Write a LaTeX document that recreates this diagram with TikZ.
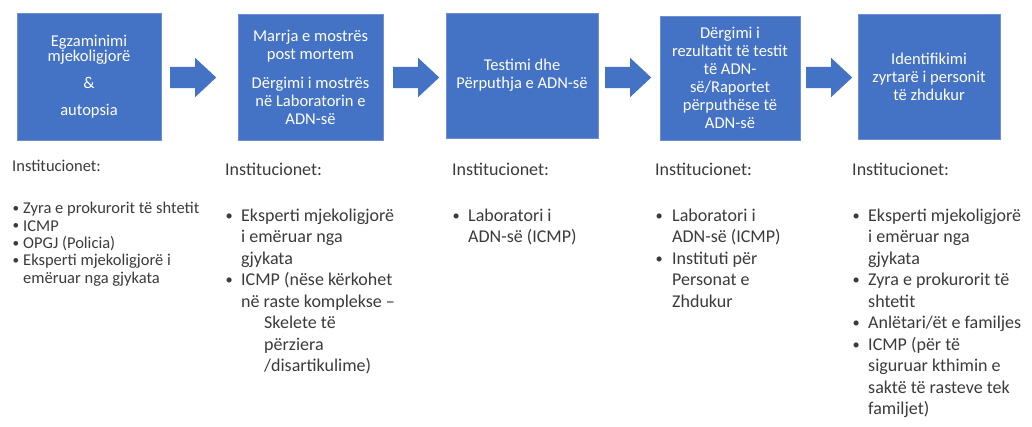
\documentclass[tikz,border=0pt]{standalone}
\usepackage{graphicx}
\usepackage{fontspec}
\setmainfont{Carlito}
\usetikzlibrary{shapes.arrows}
\definecolor{boxblue}{HTML}{4472C4}
\definecolor{boxedge}{HTML}{6F8FD0}
\definecolor{txtgray}{HTML}{3B3B3B}
\newcommand\bul[1]{\makebox[#1][l]{\hspace{0.5pt}\raisebox{0.08em}{\scalebox{0.8}{\textbullet}}}}
\begin{document}
\begin{tikzpicture}[x=1pt,y=-1pt,
  stepbox/.style={rectangle, fill=boxblue, draw=boxedge, line width=0.6pt, text=white,
    align=center, inner sep=0pt, font=\fontsize{16.5}{18}\selectfont},
  blockarrow/.style={single arrow, fill=boxblue, draw=none, inner xsep=0pt, inner ysep=10.5pt,
    minimum height=46pt, minimum width=39pt, single arrow head extend=9pt,
    single arrow tip angle=86, anchor=tail},
  listtext/.style={anchor=base west, inner sep=0pt, text=txtgray}
]
\fill[white] (0,0) rectangle (1032,427);
\useasboundingbox (0,0) rectangle (1032,427);

% step boxes
\node[stepbox, minimum width=144pt, minimum height=127pt, font=\fontsize{16.5}{15}\selectfont]
  (b1) at (89,76.5) {Egzaminimi\\mjekoligjorë\\[12pt]\&\\[12pt]autopsia};
\node[stepbox, minimum width=145pt, minimum height=126pt]
  (b2) at (310.5,77) {Marrja e mostrës\\post mortem\\[11pt]Dërgimi i mostrës\\në Laboratorin e\\ADN-së};
\node[stepbox, minimum width=152pt, minimum height=125pt]
  (b3) at (522,75.5) {Testimi dhe\\Përputhja e ADN-së};
\node[stepbox, minimum width=140pt, minimum height=124pt]
  (b4) at (730,78) {Dërgimi i\\rezultatit të testit\\të ADN-\\së/Raportet\\përputhëse të\\ADN-së};
\node[stepbox, minimum width=142pt, minimum height=125pt]
  (b5) at (929,76.5) {Identifikimi\\zyrtarë i personit\\të zhdukur};

% block arrows
\node[blockarrow] (a1) at (170,77.5) {};
\node[blockarrow] (a2) at (393,77.5) {};
\node[blockarrow] (a3) at (605,77.5) {};
\node[blockarrow] (a4) at (806,77.5) {};

% institution lists
\node[listtext] (c1) at (12,172) {\parbox[t]{215pt}{\fontsize{16.5}{17.3}\selectfont
  Institucionet:\\[24.7pt]
  \bul{11pt}Zyra e prokurorit të shtetit\\
  \bul{11pt}ICMP\\
  \bul{11pt}OPGJ (Policia)\\
  \bul{11pt}Eksperti mjekoligjorë i\\
  \hspace*{11pt}emëruar nga gjykata}};
\node[listtext] (c2) at (225,176) {\parbox[t]{210pt}{\fontsize{18}{21.5}\selectfont
  Institucionet:\\[24pt]
  \bul{16pt}Eksperti mjekoligjorë\\
  \hspace*{16pt}i emëruar nga\\
  \hspace*{16pt}gjykata\\
  \bul{16pt}ICMP (nëse kërkohet\\
  \hspace*{16pt}në raste komplekse –\\
  \hspace*{39pt}Skelete të\\
  \hspace*{39pt}përziera\\
  \hspace*{39pt}/disartikulime)}};
\node[listtext] (c3) at (452,176) {\parbox[t]{200pt}{\fontsize{18}{21.5}\selectfont
  Institucionet:\\[24pt]
  \bul{16pt}Laboratori i\\
  \hspace*{16pt}ADN-së (ICMP)}};
\node[listtext] (c4) at (655,176) {\parbox[t]{190pt}{\fontsize{18}{21.5}\selectfont
  Institucionet:\\[24pt]
  \bul{17pt}Laboratori i\\
  \hspace*{17pt}ADN-së (ICMP)\\
  \bul{17pt}Instituti për\\
  \hspace*{17pt}Personat e\\
  \hspace*{17pt}Zhdukur}};
\node[listtext] (c5) at (852,176) {\parbox[t]{180pt}{\fontsize{18}{21.5}\selectfont
  Institucionet:\\[24pt]
  \bul{16pt}Eksperti mjekoligjorë\\
  \hspace*{16pt}i emëruar nga\\
  \hspace*{16pt}gjykata\\
  \bul{16pt}Zyra e prokurorit të\\
  \hspace*{16pt}shtetit\\
  \bul{16pt}Anlëtari/ët e familjes\\
  \bul{16pt}ICMP (për të\\
  \hspace*{16pt}siguruar kthimin e\\
  \hspace*{16pt}saktë të rasteve tek\\
  \hspace*{16pt}familjet)}};
\end{tikzpicture}
\end{document}
